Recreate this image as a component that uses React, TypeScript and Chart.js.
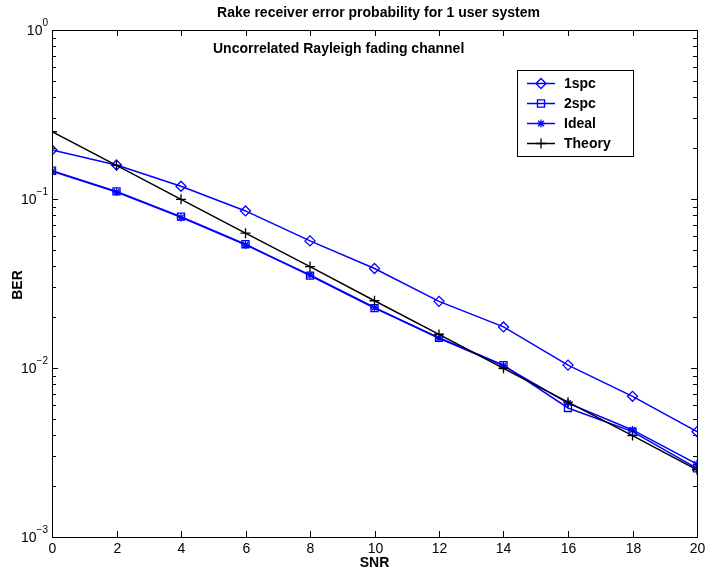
import React, { useEffect, useRef } from "react";
import { Chart, registerables } from "chart.js";
import { drawPoint } from "chart.js/helpers";

Chart.register(...registerables);

const snr = [0, 2, 4, 6, 8, 10, 12, 14, 16, 18, 20];
const oneSpc = [0.195, 0.159, 0.119, 0.085, 0.0565, 0.0388, 0.0248, 0.0175, 0.0104, 0.0068, 0.0042];
const twoSpc = [0.147, 0.111, 0.0786, 0.054, 0.0352, 0.0226, 0.0151, 0.0104, 0.0058, 0.0042, 0.00255];
const ideal = [0.146, 0.11, 0.0778, 0.0535, 0.0355, 0.0228, 0.015, 0.0103, 0.0062, 0.0043, 0.0027];
const theory = [0.25, 0.158, 0.0995, 0.0628, 0.0398, 0.025, 0.0158, 0.00995, 0.00628, 0.00398, 0.0025];

const xTicks = [0, 2, 4, 6, 8, 10, 12, 14, 16, 18, 20];
const yExponents = [0, -1, -2, -3];
const minorMultipliers = [2, 3, 4, 5, 6, 7, 8, 9];

const titleText = "Rake receiver error probability for 1 user system";
const subtitleText = "Uncorrelated Rayleigh fading channel";
const xLabel = "SNR";
const yLabel = "BER";

const FONT = "'Liberation Sans', Arial, Helvetica, sans-serif";
const BLUE = "#0000ff";

const toPoints = (ys: number[]) => snr.map((x, i) => ({ x, y: ys[i] }));

const axesPlugin = {
  id: "matlabAxes",
  afterDraw(chart: any) {
    const ctx = chart.ctx as CanvasRenderingContext2D;
    const a = chart.chartArea;
    const xs = chart.scales.x;
    const ys = chart.scales.y;
    ctx.save();
    ctx.strokeStyle = "#000";
    ctx.fillStyle = "#000";
    ctx.lineWidth = 1;
    ctx.strokeRect(Math.round(a.left) + 0.5, Math.round(a.top) + 0.5, Math.round(a.right - a.left), Math.round(a.bottom - a.top));
    ctx.font = `14px ${FONT}`;
    ctx.textAlign = "center";
    ctx.textBaseline = "top";
    for (const v of xTicks) {
      const px = Math.round(xs.getPixelForValue(v)) + 0.5;
      ctx.beginPath();
      ctx.moveTo(px, a.bottom);
      ctx.lineTo(px, a.bottom - 6);
      ctx.moveTo(px, a.top);
      ctx.lineTo(px, a.top + 6);
      ctx.stroke();
      ctx.fillText(String(v), px, a.bottom + 5);
    }
    for (const e of yExponents) {
      const py = Math.round(ys.getPixelForValue(Math.pow(10, e))) + 0.5;
      ctx.beginPath();
      ctx.moveTo(a.left, py);
      ctx.lineTo(a.left + 6, py);
      ctx.moveTo(a.right, py);
      ctx.lineTo(a.right - 6, py);
      ctx.stroke();
      const expStr = e === 0 ? "0" : "\u2212" + String(-e);
      ctx.font = `10px ${FONT}`;
      const ew = ctx.measureText(expStr).width;
      ctx.textAlign = "right";
      ctx.textBaseline = "middle";
      const right = a.left - 4;
      ctx.fillText(expStr, right, py - 7);
      ctx.font = `14px ${FONT}`;
      ctx.fillText("10", right - ew, py + 1);
    }
    for (let d = -3; d < 0; d++) {
      for (const m of minorMultipliers) {
        const py = Math.round(ys.getPixelForValue(m * Math.pow(10, d))) + 0.5;
        ctx.beginPath();
        ctx.moveTo(a.left, py);
        ctx.lineTo(a.left + 4, py);
        ctx.moveTo(a.right, py);
        ctx.lineTo(a.right - 4, py);
        ctx.stroke();
      }
    }
    ctx.font = `bold 14px ${FONT}`;
    ctx.textAlign = "center";
    ctx.textBaseline = "middle";
    ctx.fillText(titleText, (a.left + a.right) / 2 + 4, 13);
    ctx.textAlign = "left";
    ctx.fillText(subtitleText, 213, 49);
    ctx.textAlign = "center";
    ctx.fillText(xLabel, (a.left + a.right) / 2, 563);
    ctx.save();
    ctx.translate(18, 285);
    ctx.rotate(-Math.PI / 2);
    ctx.fillText(yLabel, 0, 0);
    ctx.restore();

    const lx = 517, ly = 70, lw = 116, lh = 86;
    ctx.fillStyle = "#fff";
    ctx.fillRect(lx, ly, lw, lh);
    ctx.strokeStyle = "#000";
    ctx.lineWidth = 1;
    ctx.strokeRect(lx + 0.5, ly + 0.5, lw, lh);
    const datasets = chart.data.datasets;
    datasets.forEach((ds: any, i: number) => {
      const y = ly + 13.5 + i * 20;
      ctx.strokeStyle = ds.borderColor;
      ctx.lineWidth = ds.borderWidth;
      ctx.beginPath();
      ctx.moveTo(527, y);
      ctx.lineTo(555, y);
      ctx.stroke();
      ctx.fillStyle = "rgba(0,0,0,0)";
      ctx.strokeStyle = ds.pointBorderColor;
      ctx.lineWidth = ds.pointBorderWidth;
      drawPoint(ctx, { pointStyle: ds.pointStyle, radius: ds.pointRadius, rotation: 0, borderWidth: ds.pointBorderWidth }, 541, y);
      ctx.fillStyle = "#000";
      ctx.font = `bold 14px ${FONT}`;
      ctx.textAlign = "left";
      ctx.textBaseline = "middle";
      ctx.fillText(ds.label, 564, y + 0.5);
    });
    ctx.restore();
  },
};

export default function App() {
  const ref = useRef<HTMLCanvasElement | null>(null);
  useEffect(() => {
    if (!ref.current) return;
    const common = { borderWidth: 1.5, pointBorderWidth: 1.3, pointBackgroundColor: "rgba(0,0,0,0)", fill: false, tension: 0 };
    const chart = new Chart(ref.current, {
      type: "line",
      data: {
        datasets: [
          { ...common, label: "1spc", data: toPoints(oneSpc), borderColor: BLUE, pointBorderColor: BLUE, pointStyle: "rectRot", pointRadius: 5, order: 3 },
          { ...common, label: "2spc", data: toPoints(twoSpc), borderColor: BLUE, pointBorderColor: BLUE, pointStyle: "rect", pointRadius: 5, order: 2 },
          { ...common, label: "Ideal", data: toPoints(ideal), borderColor: BLUE, pointBorderColor: BLUE, pointStyle: "star", pointRadius: 4, order: 1 },
          { ...common, label: "Theory", data: toPoints(theory), borderColor: "#000", pointBorderColor: "#000", pointStyle: "cross", pointRadius: 5, order: 0 },
        ] as any,
      },
      options: {
        animation: false,
        responsive: false,
        layout: { padding: { left: 52, right: 8, top: 30, bottom: 37 } },
        plugins: { legend: { display: false }, title: { display: false }, tooltip: { enabled: false } },
        events: [],
        scales: {
          x: { type: "linear", min: 0, max: 20, display: false },
          y: { type: "logarithmic", min: 0.001, max: 1, display: false },
        },
      },
      plugins: [axesPlugin],
    });
    return () => chart.destroy();
  }, []);
  return (
    <div style={{ position: "fixed", left: 0, top: 0, width: 705, height: 574, background: "#fff" }}>
      <canvas ref={ref} width={705} height={574} style={{ display: "block", width: 705, height: 574 }} />
    </div>
  );
}
